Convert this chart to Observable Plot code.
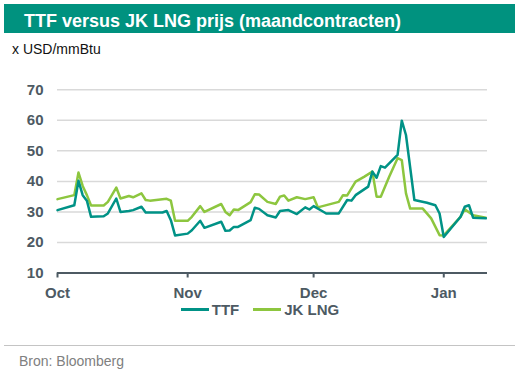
<!DOCTYPE html>
<html>
<head>
<meta charset="utf-8">
<script src="https://cdn.jsdelivr.net/npm/d3@7"></script>
<script src="https://cdn.jsdelivr.net/npm/@observablehq/plot@0.6"></script>
<style>
  body { margin: 0; background: #fff; font-family: "Liberation Sans", Arial, sans-serif; }
  #wrap { position: relative; width: 520px; height: 373px; overflow: hidden; background: #fff; }
  .abs { position: absolute; white-space: nowrap; }
  #bar { left: 4px; top: 4px; width: 511px; height: 29px; background: #00927f; }
  #title { left: 24px; top: 11.5px; font-size: 18px; line-height: 18px; font-weight: bold; color: #fff; }
  #unit { left: 12px; top: 41.5px; font-size: 14px; line-height: 14px; color: #111; }
  #chart { left: 0; top: 60px; }
  #legend { left: 0; top: 302px; width: 520px; display: flex; justify-content: center; align-items: center;
            font-size: 15px; line-height: 15px; font-weight: bold; color: #4d5a63; }
  .sw { display: inline-block; width: 28px; height: 3px; margin-right: 3px; }
  .item { display: flex; align-items: center; }
  #sep { left: 4px; top: 344.5px; width: 511px; height: 1px; background: #c4c4c4; }
  #source { left: 19px; top: 354px; font-size: 14px; line-height: 14px; color: #808080; }
  #chart svg [aria-label="x-axis tick"] { stroke-width: 2px; }
</style>
</head>
<body>
<div id="wrap">
  <div id="bar" class="abs"></div>
  <div id="title" class="abs">TTF versus JK LNG prijs (maandcontracten)</div>
  <div id="unit" class="abs">x USD/mmBtu</div>
  <div id="chart" class="abs"></div>
  <div id="legend" class="abs"></div>
  <div id="sep" class="abs"></div>
  <div id="source" class="abs">Bron: Bloomberg</div>
</div>
<script>
// ---- data ----
const seriesNames = ["TTF", "JK LNG"];
const seriesColors = ["#009286", "#8dc63f"];

const ttfDates = ["2021-10-01","2021-10-05","2021-10-06","2021-10-07","2021-10-08","2021-10-09","2021-10-12","2021-10-13","2021-10-15","2021-10-16","2021-10-18","2021-10-19","2021-10-21","2021-10-22","2021-10-26","2021-10-27","2021-10-28","2021-10-29","2021-11-01","2021-11-02","2021-11-04","2021-11-05","2021-11-09","2021-11-10","2021-11-11","2021-11-12","2021-11-13","2021-11-16","2021-11-17","2021-11-18","2021-11-20","2021-11-22","2021-11-23","2021-11-25","2021-11-27","2021-11-29","2021-11-30","2021-12-01","2021-12-03","2021-12-04","2021-12-07","2021-12-09","2021-12-10","2021-12-11","2021-12-14","2021-12-15","2021-12-16","2021-12-17","2021-12-18","2021-12-21","2021-12-22","2021-12-23","2021-12-25","2021-12-28","2021-12-30","2021-12-31","2022-01-01","2022-01-05","2022-01-06","2022-01-07","2022-01-08","2022-01-11"];
const ttfValues = [30.6,32.2,40.2,35.5,33.7,28.4,28.6,29.5,34.4,30.0,30.3,30.6,31.7,29.8,29.8,30.3,27.3,22.3,22.9,24.0,27.1,24.8,26.8,23.8,23.9,25.1,25.1,27.3,31.4,31.0,28.9,28.2,30.3,30.6,29.3,31.5,30.8,31.9,30.3,29.5,29.5,33.9,33.7,35.5,38.3,43.2,41.2,45.0,44.5,48.7,59.9,55.2,33.9,33.0,32.2,29.5,21.8,28.4,31.7,32.2,28.1,27.9];

const jkDates = ["2021-10-01","2021-10-05","2021-10-06","2021-10-07","2021-10-08","2021-10-09","2021-10-12","2021-10-13","2021-10-15","2021-10-16","2021-10-18","2021-10-19","2021-10-21","2021-10-22","2021-10-23","2021-10-27","2021-10-28","2021-10-29","2021-11-01","2021-11-02","2021-11-04","2021-11-05","2021-11-09","2021-11-10","2021-11-11","2021-11-12","2021-11-13","2021-11-16","2021-11-17","2021-11-18","2021-11-20","2021-11-22","2021-11-23","2021-11-24","2021-11-25","2021-11-27","2021-11-29","2021-12-01","2021-12-02","2021-12-07","2021-12-08","2021-12-09","2021-12-11","2021-12-13","2021-12-15","2021-12-16","2021-12-17","2021-12-19","2021-12-21","2021-12-22","2021-12-23","2021-12-24","2021-12-27","2021-12-29","2021-12-31","2022-01-01","2022-01-05","2022-01-06","2022-01-08","2022-01-11"];
const jkValues = [34.2,35.5,42.9,38.5,35.5,32.1,32.1,33.3,38.0,34.4,35.2,34.8,36.1,33.9,33.7,34.3,33.7,27.1,27.1,28.4,31.9,30.0,32.6,30.0,28.9,30.8,30.6,33.2,35.8,35.7,33.3,32.6,35.0,35.4,33.7,34.8,34.2,34.8,31.5,33.3,35.5,35.4,39.9,41.5,43.2,35.0,35.0,41.5,47.6,47.0,36.1,31.1,31.1,27.9,22.4,22.3,28.4,30.9,28.9,28.1];

const monthTicks = ["2021-10-01","2021-11-01","2021-12-01","2022-01-01"];
const monthLabels = ["Oct","Nov","Dec","Jan"];
const yTicks = [10,20,30,40,50,60,70];

// ---- build ----
const ttf = ttfDates.map((d, i) => ({date: new Date(d), value: ttfValues[i]}));
const jk = jkDates.map((d, i) => ({date: new Date(d), value: jkValues[i]}));
const tickDates = monthTicks.map(d => new Date(d));
const axisColor = "#4d5a63";

const chart = Plot.plot({
  width: 520,
  height: 242,
  marginLeft: 57,
  marginRight: 33,
  marginTop: 29.3,
  marginBottom: 29.5,
  style: {fontFamily: '"Liberation Sans", Arial, sans-serif', fontSize: "15px", fontWeight: "bold", color: axisColor, background: "#fff", overflow: "visible"},
  x: {
    type: "utc",
    domain: [new Date("2021-10-01"), new Date("2022-01-11T10:00:00Z")],
    ticks: tickDates,
    tickFormat: d => monthLabels[tickDates.findIndex(t => +t === +d)],
    tickSize: 5,
    tickPadding: 9,
    label: null
  },
  y: {
    domain: [10, 70],
    ticks: yTicks,
    tickSize: 0,
    tickPadding: 14,
    label: null
  },
  marks: [
    Plot.ruleY(yTicks.filter(v => v > 10), {stroke: "#d9d9d9", strokeWidth: 1.5}),
    Plot.ruleY([10], {stroke: axisColor, strokeWidth: 2}),
    Plot.line(jk, {x: "date", y: "value", stroke: seriesColors[1], strokeWidth: 2.5}),
    Plot.line(ttf, {x: "date", y: "value", stroke: seriesColors[0], strokeWidth: 2.5})
  ]
});
document.getElementById("chart").appendChild(chart);

const legend = document.getElementById("legend");
seriesNames.forEach((name, i) => {
  const item = document.createElement("span");
  item.className = "item";
  if (i > 0) item.style.marginLeft = "14px";
  const sw = document.createElement("span");
  sw.className = "sw";
  sw.style.background = seriesColors[i];
  item.appendChild(sw);
  item.appendChild(document.createTextNode(name));
  legend.appendChild(item);
});
</script>
</body>
</html>
